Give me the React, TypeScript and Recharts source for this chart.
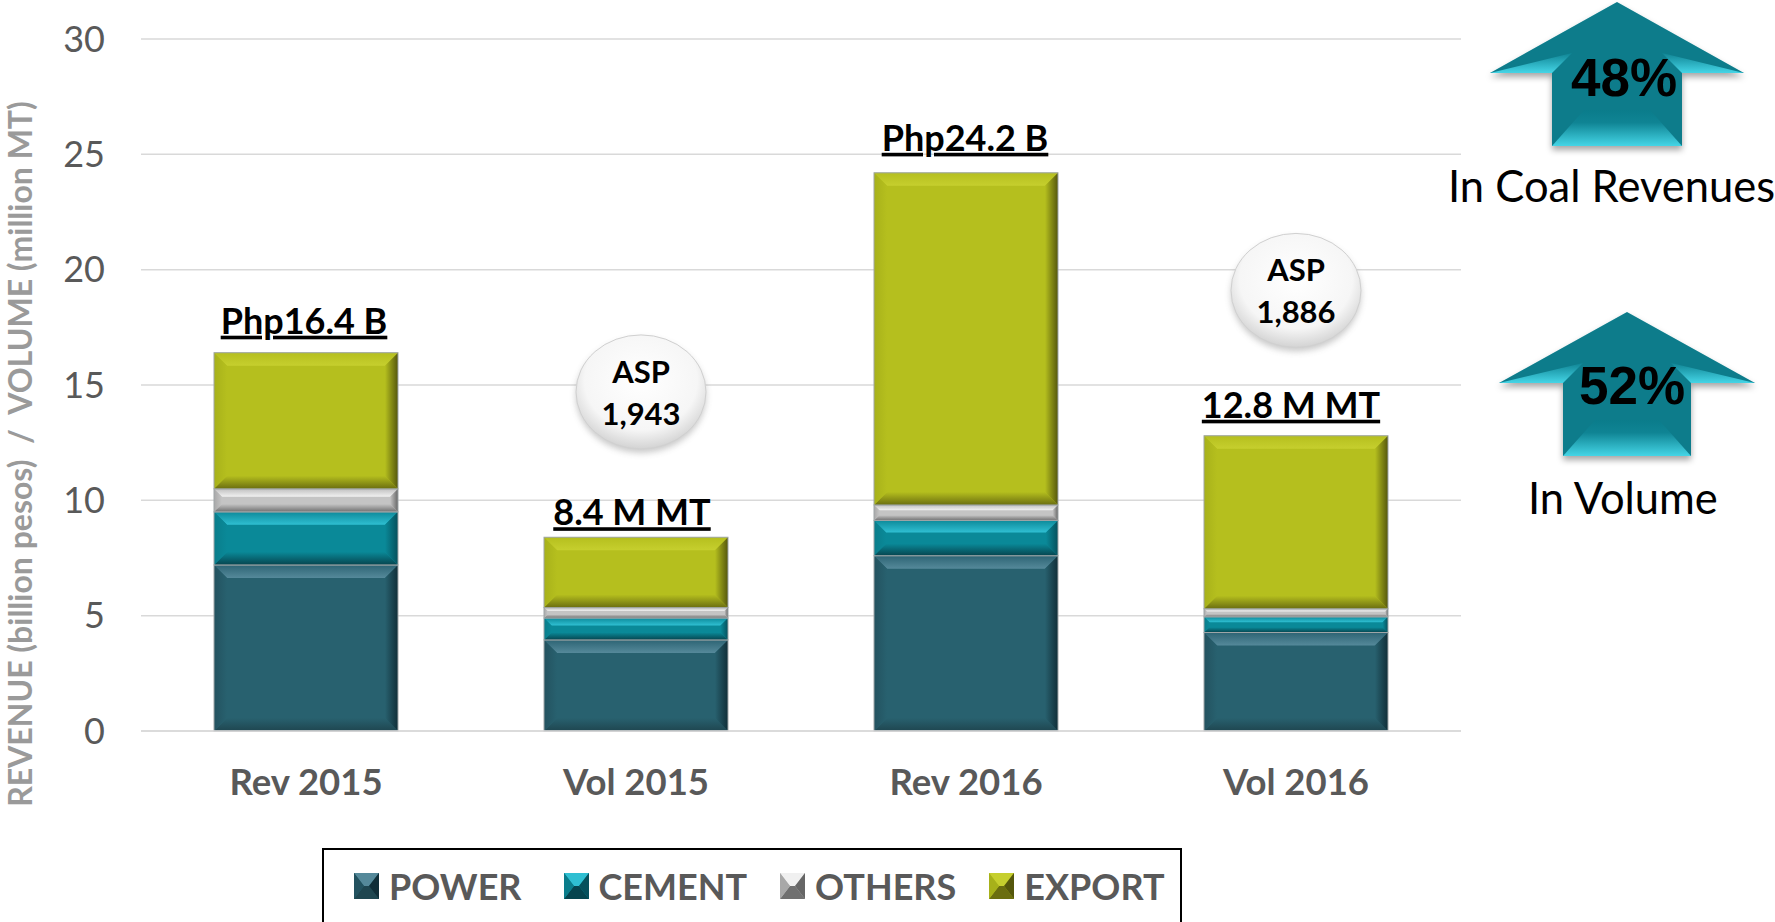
import { BarChart, Bar, XAxis, YAxis, CartesianGrid, Legend, LabelList, ReferenceDot } from 'recharts';

const categories = ['Rev 2015', 'Vol 2015', 'Rev 2016', 'Vol 2016'];
const power = [7.2, 3.95, 7.6, 4.27];
const cement = [2.3, 0.95, 1.53, 0.68];
const others = [1.0, 0.45, 0.67, 0.35];
const exportSales = [5.9, 3.05, 14.4, 7.5];
const totalLabels = ['Php16.4 B', '8.4 M MT', 'Php24.2 B', '12.8 M MT'];
const yTicks = [0, 5, 10, 15, 20, 25, 30];
const aspCategories = ['Vol 2015', 'Vol 2016'];
const aspValues = [14.7, 19.1];
const aspLabels = ['1,943', '1,886'];

const data = categories.map((name, i) => ({
  name,
  POWER: power[i],
  CEMENT: cement[i],
  OTHERS: others[i],
  EXPORT: exportSales[i],
}));

const FONT = 'Lato, sans-serif';
const GREY = '#595959';

type Bevel = { face: string; top: string; topEdge: string; bottom: string; left: string; right: string };
const bevels: Record<string, Bevel> = {
  POWER: { face: '#28616f', top: '#55899a', topEdge: '#2d6474', bottom: '#1f4650', left: '#23525f', right: '#102e38' },
  CEMENT: { face: '#0a8998', top: '#2fbfd2', topEdge: '#0d8a9a', bottom: '#06454f', left: '#0a7d8b', right: '#06505c' },
  OTHERS: { face: '#c4c4c4', top: '#f0f0f0', topEdge: '#c0c0c0', bottom: '#707070', left: '#a8a8a8', right: '#666666' },
  EXPORT: { face: '#b5bf1e', top: '#c6cf2e', topEdge: '#b5bf1e', bottom: '#6b6e10', left: '#a7b11a', right: '#55570c' },
};

const BevelBar = (props: any) => {
  const { x, y, width, height, series } = props;
  const c = bevels[series];
  const b = Math.min(13, height * 0.34);
  const r = x + width;
  const d = y + height;
  return (
    <g>
      <rect x={x} y={y} width={width} height={height} fill={c.face} />
      <polygon points={`${x},${y} ${r},${y} ${r - b},${y + b} ${x + b},${y + b}`} fill={`url(#top-${series})`} />
      <polygon points={`${x},${d} ${r},${d} ${r - b},${d - b} ${x + b},${d - b}`} fill={`url(#bottom-${series})`} />
      <polygon points={`${x},${y} ${x + b},${y + b} ${x + b},${d - b} ${x},${d}`} fill={`url(#left-${series})`} />
      <polygon points={`${r},${y} ${r - b},${y + b} ${r - b},${d - b} ${r},${d}`} fill={`url(#right-${series})`} />
      <rect x={x} y={y} width={width} height={height} fill="none" stroke="#9fa6a8" strokeWidth={1} />
    </g>
  );
};

const TotalLabel = (props: any) => {
  const { x, y, width, index } = props;
  const shifts = [-2, -4, -1, -5];
  const lifts = [19, 12, 22, 18];
  return (
    <text
      x={x + width / 2 + shifts[index]}
      y={y - lifts[index]}
      textAnchor="middle"
      fontFamily={FONT}
      fontWeight={700}
      fontSize={36}
      fill="#000"
      textDecoration="underline"
    >
      {totalLabels[index]}
    </text>
  );
};

const AspBubble = (props: any) => {
  const { cx, cy, label, shift } = props;
  const mx = cx + shift;
  return (
    <g>
      <ellipse cx={mx} cy={cy + 4} rx={65} ry={57} fill="#8a8a8a" opacity={0.45} filter="url(#bubbleBlur)" />
      <ellipse cx={mx} cy={cy} rx={65} ry={57} fill="url(#bubble)" stroke="#d0d0d0" />
      <text x={mx} y={cy - 9} textAnchor="middle" fontFamily={FONT} fontWeight={700} fontSize={31} fill="#000">ASP</text>
      <text x={mx} y={cy + 33} textAnchor="middle" fontFamily={FONT} fontWeight={700} fontSize={31} fill="#000">{label}</text>
    </g>
  );
};

const LegendIcon = ({ series }: { series: string }) => {
  const c = bevels[series];
  return (
    <svg width={25} height={26} style={{ marginRight: 10, flex: 'none' }}>
      <rect width={25} height={26} fill={c.face} />
      <polygon points="0,0 25,0 15,13 10,13" fill={c.top} />
      <polygon points="0,26 25,26 15,13 10,13" fill={c.bottom} />
      <polygon points="0,0 10,13 0,26" fill={c.left} />
      <polygon points="25,0 15,13 25,26" fill={c.right} />
    </svg>
  );
};

const ChartLegend = ({ payload }: any) => (
  <div
    style={{
      boxSizing: 'border-box',
      width: 860,
      height: 80,
      border: '2px solid #000',
      borderBottom: 'none',
      display: 'flex',
      alignItems: 'center',
      paddingLeft: 30,
      paddingBottom: 6,
      fontFamily: FONT,
      fontWeight: 700,
      fontSize: 36,
      color: GREY,
    }}
  >
    {(payload || []).map((item: any, i: number) => (
      <div key={item.value} style={{ display: 'flex', alignItems: 'center', marginRight: i === 0 ? 42 : 33 }}>
        <LegendIcon series={item.value} />
        {item.value}
      </div>
    ))}
  </div>
);

const UpArrow = ({ apex, wing, shaft, yApex, yWing, yBase, value, textX, textY }: any) => {
  const left = apex - wing;
  const right = apex + wing;
  const sl = apex - shaft;
  const sr = apex + shaft;
  const midY = yBase - 36;
  return (
    <g>
      <polygon
        points={`${apex},${yApex} ${right},${yWing} ${sr},${yWing} ${sr},${yBase} ${sl},${yBase} ${sl},${yWing} ${left},${yWing}`}
        fill="#0a7c8b"
        filter="url(#arrowShadow)"
      />
      <polygon points={`${left},${yWing} ${sl + 20},${yWing - 20} ${sl},${yWing}`} fill="url(#wing)" />
      <polygon points={`${right},${yWing} ${sr - 20},${yWing - 20} ${sr},${yWing}`} fill="url(#wing)" />
      <polygon points={`${sl},${yBase} ${sl + 32},${midY} ${sr - 32},${midY} ${sr},${yBase}`} fill="url(#arrowBase)" />
      <text x={textX} y={textY} textAnchor="middle" fontFamily="Liberation Sans, sans-serif" fontWeight={700} fontSize={53} fill="#000">
        {value}
      </text>
    </g>
  );
};

const captionStyle = { fontFamily: FONT, fontSize: 43.5, fill: '#000' };

export default function App() {
  return (
    <div style={{ position: 'absolute', left: 0, top: 0, width: 1775, height: 922, overflow: 'hidden', background: '#fff' }}>
      <BarChart width={1775} height={922} data={data} margin={{ top: 39, right: 314, bottom: 0, left: 0 }} barSize={184}>
        <defs>
          {Object.keys(bevels).map((k) => (
            <g key={k}>
              <linearGradient id={`top-${k}`} x1="0" y1="0" x2="0" y2="1">
                <stop offset="0%" stopColor={bevels[k].topEdge} />
                <stop offset="100%" stopColor={bevels[k].top} />
              </linearGradient>
              <linearGradient id={`bottom-${k}`} x1="0" y1="0" x2="0" y2="1">
                <stop offset="0%" stopColor={bevels[k].face} />
                <stop offset="100%" stopColor={bevels[k].bottom} />
              </linearGradient>
              <linearGradient id={`left-${k}`} x1="0" y1="0" x2="1" y2="0">
                <stop offset="0%" stopColor={bevels[k].left} />
                <stop offset="100%" stopColor={bevels[k].face} />
              </linearGradient>
              <linearGradient id={`right-${k}`} x1="0" y1="0" x2="1" y2="0">
                <stop offset="0%" stopColor={bevels[k].face} />
                <stop offset="100%" stopColor={bevels[k].right} />
              </linearGradient>
            </g>
          ))}
          <radialGradient id="bubble" cx="50%" cy="40%" r="62%">
            <stop offset="0%" stopColor="#ffffff" />
            <stop offset="70%" stopColor="#f6f6f6" />
            <stop offset="100%" stopColor="#cfcfcf" />
          </radialGradient>
          <filter id="bubbleBlur" x="-20%" y="-20%" width="140%" height="140%">
            <feGaussianBlur stdDeviation="3" />
          </filter>
        </defs>
        <CartesianGrid vertical={false} stroke="#d9d9d9" strokeWidth={1.5} />
        <XAxis
          dataKey="name"
          height={111}
          axisLine={{ stroke: '#d9d9d9', strokeWidth: 1.5 }}
          tickLine={false}
          tickMargin={32}
          tick={{ fontFamily: FONT, fontWeight: 700, fontSize: 36.5, fill: GREY }}
        />
        <YAxis
          width={141}
          domain={[0, 30]}
          ticks={yTicks}
          axisLine={false}
          tickLine={false}
          tickMargin={30}
          tick={{ fontFamily: FONT, fontSize: 36, fill: GREY }}
          label={{
            content: () => (
              <text
                transform="translate(32 454) rotate(-90)"
                textAnchor="middle"
                fontFamily={FONT}
                fontWeight={700}
                fontSize={32}
                fill="#9a9a9a"
                xmlSpace="preserve"
              >
                REVENUE (billion pesos)  /  VOLUME (million MT)
              </text>
            ),
          }}
        />
        <Legend
          verticalAlign="bottom"
          itemSorter={null}
          content={<ChartLegend />}
          wrapperStyle={{ position: 'absolute', left: 322, top: 848, bottom: 'auto', width: 860, height: 80 }}
        />
        <Bar dataKey="POWER" stackId="a" fill={bevels.POWER.face} isAnimationActive={false} shape={(p: any) => <BevelBar {...p} series="POWER" />} />
        <Bar dataKey="CEMENT" stackId="a" fill={bevels.CEMENT.face} isAnimationActive={false} shape={(p: any) => <BevelBar {...p} series="CEMENT" />} />
        <Bar dataKey="OTHERS" stackId="a" fill={bevels.OTHERS.face} isAnimationActive={false} shape={(p: any) => <BevelBar {...p} series="OTHERS" />} />
        <Bar dataKey="EXPORT" stackId="a" fill={bevels.EXPORT.face} isAnimationActive={false} shape={(p: any) => <BevelBar {...p} series="EXPORT" />}>
          <LabelList dataKey="EXPORT" content={<TotalLabel />} />
        </Bar>
        {aspCategories.map((cat, i) => (
          <ReferenceDot key={cat} x={cat} y={aspValues[i]} r={50} shape={(p: any) => <AspBubble {...p} label={aspLabels[i]} shift={i === 0 ? 5 : 0} />} />
        ))}
      </BarChart>

      {/* growth arrows sit outside the plot, on the right */}
      <svg width={1775} height={922} style={{ position: 'absolute', left: 0, top: 0, pointerEvents: 'none' }}>
        <defs>
          <linearGradient id="wing" x1="0" y1="0" x2="0" y2="1">
            <stop offset="0%" stopColor="#0f8494" />
            <stop offset="100%" stopColor="#45d5e6" />
          </linearGradient>
          <linearGradient id="arrowBase" x1="0" y1="0" x2="0" y2="1">
            <stop offset="0%" stopColor="#0a7c8b" />
            <stop offset="35%" stopColor="#0f8494" />
            <stop offset="100%" stopColor="#45d5e6" />
          </linearGradient>
          <filter id="arrowShadow" x="-10%" y="-10%" width="120%" height="125%">
            <feDropShadow dx="0" dy="4" stdDeviation="3" floodColor="#000" floodOpacity="0.35" />
          </filter>
        </defs>
        <UpArrow apex={1617} wing={127} shaft={65} yApex={2} yWing={73} yBase={146} value="48%" textX={1624} textY={96} />
        <text x={1448} y={202} {...captionStyle}>In Coal Revenues</text>
        <UpArrow apex={1627} wing={128} shaft={64} yApex={312} yWing={383} yBase={456} value="52%" textX={1632} textY={404} />
        <text x={1528} y={514} {...captionStyle}>In Volume</text>
      </svg>
    </div>
  );
}
